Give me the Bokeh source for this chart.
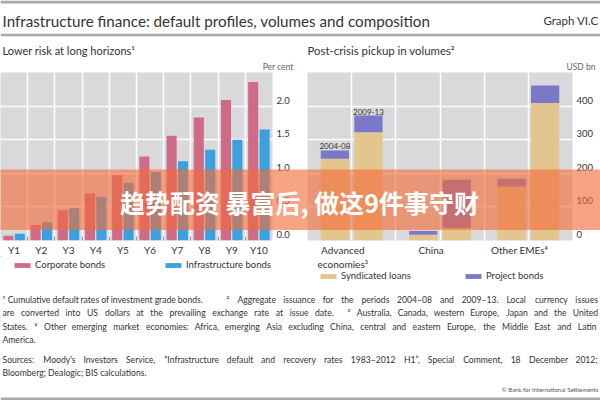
from bokeh.plotting import figure
from bokeh.layouts import column, row
from bokeh.models import (ColumnDataSource, Range1d, FixedTicker, Legend, LegendItem)
from bokeh.transform import dodge, stack
from bokeh.core.properties import value
from bokeh.embed import file_html
from bokeh.resources import INLINE

# ---------------- data ----------------
horizons = ["Y1", "Y2", "Y3", "Y4", "Y5", "Y6", "Y7", "Y8", "Y9", "Y10"]
corporate_bonds = [0.07, 0.23, 0.45, 0.70, 0.97, 1.25, 1.56, 1.83, 2.09, 2.36]
infrastructure_bonds = [0.10, 0.27, 0.48, 0.65, 0.86, 1.02, 1.18, 1.35, 1.50, 1.65]
left_ticks = [0.0, 0.5, 1.0, 1.5, 2.0]
left_tick_labels = ["0.0", "0.5", "1.0", "1.5", "2.0"]

regions = ["Advanced\neconomies³", "China", "Other EMEs⁴"]
periods = ["2004-08", "2009-13"]
syndicated_2004_08 = [243, 17, 161]
project_2004_08 = [25, 11, 23]
syndicated_2009_13 = [322, 37, 409]
project_2009_13 = [50, 144, 52]
right_ticks = [0, 100, 200, 300, 400]
right_tick_labels = ["0", "100", "200", "300", "400"]

# ---------------- style ----------------
FONT = "Lato"
CJK = "Noto Sans CJK SC"
TXT = "#333333"
BG = "#d9d9db"
PINK = "#cf6a87"
BLUE = "#3aa0de"
TAN = "#e3c58e"
PURPLE = "#7c78c8"
RULE = "#a8a8a8"
BANNER = "#f26b3a"
BANNER_ALPHA = 0.62
FRAME_H = 168          # plot-area height in px
LABEL_LIFT = 6         # y tick labels sit a few px above their grid line

# approximate Lato advance widths (em) used to justify the footnote lines
EM = {' ': 0.193, 'a': 0.484, 'b': 0.56, 'c': 0.45, 'd': 0.56, 'e': 0.52, 'f': 0.31, 'g': 0.5,
      'h': 0.56, 'i': 0.235, 'j': 0.235, 'k': 0.5, 'l': 0.235, 'm': 0.84, 'n': 0.56, 'o': 0.55,
      'p': 0.56, 'q': 0.56, 'r': 0.37, 's': 0.42, 't': 0.35, 'u': 0.56, 'v': 0.5, 'w': 0.77,
      'x': 0.49, 'y': 0.5, 'z': 0.44, '.': 0.23, ',': 0.23, ':': 0.25, ';': 0.25, '–': 0.58,
      '-': 0.36, '“': 0.35, '”': 0.35, "'": 0.22, '¹': 0.35, '²': 0.35, '³': 0.35, '⁴': 0.35,
      'I': 0.29, 'M': 0.9, 'W': 1.0, 'J': 0.41}


def em_width(s):
    return sum(EM.get(ch, 0.58 if ch.isdigit() else 0.66) for ch in s)


def canvas_fig(height, top, bottom, **kw):
    return figure(width=600, height=height, x_range=Range1d(0, 600), y_range=Range1d(bottom, top),
                  output_backend="svg", toolbar_location=None, x_axis_type=None, y_axis_type=None,
                  min_border=0, outline_line_color=None, **kw)


def txt(p, x, y, s, size, align="left", color=TXT, font=FONT):
    p.text(x=[x], y=[y], text=[s], text_font=value(font), text_font_size=size,
           text_color=color, text_align=align, text_baseline="middle")


def style_panel(p, yticks, ylabels, ymax, xticks, xminor, xgrid, labels):
    lift = LABEL_LIFT * ymax / FRAME_H
    lifted = [round(t + lift, 6) for t in yticks]
    p.yaxis.ticker = FixedTicker(ticks=lifted)
    p.yaxis.major_label_overrides = {t: l for t, l in zip(lifted, ylabels)}
    p.yaxis.axis_line_color = None
    p.yaxis.major_tick_line_color = None
    p.yaxis.minor_tick_line_color = None
    p.yaxis.major_tick_out = 0
    p.yaxis.major_tick_in = 0
    p.yaxis.major_label_standoff = 4
    p.yaxis.major_label_text_font = FONT
    p.yaxis.major_label_text_font_size = "9.5px"
    p.yaxis.major_label_text_color = TXT
    p.ygrid.ticker = FixedTicker(ticks=yticks)
    p.ygrid.grid_line_color = "white"
    p.ygrid.grid_line_width = 1.5

    p.xaxis.ticker = FixedTicker(ticks=xticks, minor_ticks=xminor)
    p.xaxis.major_label_overrides = {t: l for t, l in zip(xticks, labels)}
    p.xaxis.axis_line_color = None
    p.xaxis.major_tick_line_color = None
    p.xaxis.major_tick_out = 0
    p.xaxis.minor_tick_in = 4
    p.xaxis.minor_tick_out = 0
    p.xaxis.minor_tick_line_color = "#9a9a9a"
    p.xaxis.major_label_standoff = 3
    p.xaxis.major_label_text_font = FONT
    p.xaxis.major_label_text_font_size = "10px"
    p.xaxis.major_label_text_color = TXT
    p.xgrid.ticker = FixedTicker(ticks=xgrid)
    p.xgrid.grid_line_color = "white"
    p.xgrid.grid_line_width = 1.5


# ---------------- header ----------------
head = canvas_fig(72, 0, 72)
head.segment(x0=[0, 0], y0=[1.5, 34.5], x1=[600, 600], y1=[1.5, 34.5],
             line_color=RULE, line_width=[3, 2.5])
txt(head, 2, 20, "Infrastructure finance: default profiles, volumes and composition", "15.2px")
txt(head, 598, 20, "Graph VI.C", "11.5px", align="right")
txt(head, 2, 50, "Lower risk at long horizons¹", "11px")
txt(head, 307, 50, "Post-crisis pickup in volumes²", "11.4px")
txt(head, 293, 66, "Per cent", "8.5px", align="right", color="#666666")
txt(head, 595, 66, "USD bn", "8.5px", align="right", color="#666666")

# ---------------- left panel ----------------
n = len(horizons)
left = figure(width=300, height=213, x_range=Range1d(-0.5, n - 0.5), y_range=Range1d(0, 2.5),
              y_axis_location="right", output_backend="svg", toolbar_location=None,
              min_border_left=0, min_border_right=28, min_border_top=0, min_border_bottom=45,
              background_fill_color=BG, outline_line_color=None)
lsrc = ColumnDataSource(dict(x=list(range(n)), corp=corporate_bonds, infra=infrastructure_bonds))
left.vbar(x=dodge("x", -0.21), top="corp", width=0.37, source=lsrc,
          fill_color=PINK, line_color=None)
left.vbar(x=dodge("x", 0.21), top="infra", width=0.37, source=lsrc,
          fill_color=BLUE, line_color=None)
style_panel(left, left_ticks, left_tick_labels, 2.5, list(range(n)),
            [i + 0.5 for i in range(n - 1)], [i + 0.5 for i in range(n)], horizons)

# ---------------- right panel ----------------
m = len(regions)
right = figure(width=300, height=213, x_range=Range1d(-0.5, m - 0.5), y_range=Range1d(0, 500),
               y_axis_location="right", output_backend="svg", toolbar_location=None,
               min_border_left=7, min_border_right=28, min_border_top=0, min_border_bottom=45,
               background_fill_color=BG, outline_line_color=None)
rsrc = ColumnDataSource(dict(x=list(range(m)), s04=syndicated_2004_08, p04=project_2004_08,
                             s09=syndicated_2009_13, p09=project_2009_13))
right.vbar(x=dodge("x", -0.19), bottom=0, top="s04", width=0.32, source=rsrc,
           fill_color=TAN, line_color=None)
right.vbar(x=dodge("x", -0.19), bottom=stack("s04"), top=stack("s04", "p04"), width=0.32,
           source=rsrc, fill_color=PURPLE, line_color=None)
right.vbar(x=dodge("x", 0.19), bottom=0, top="s09", width=0.32, source=rsrc,
           fill_color=TAN, line_color=None)
right.vbar(x=dodge("x", 0.19), bottom=stack("s09"), top=stack("s09", "p09"), width=0.32,
           source=rsrc, fill_color=PURPLE, line_color=None)
psrc = ColumnDataSource(dict(x=[0], t04=[syndicated_2004_08[0] + project_2004_08[0]],
                             t09=[syndicated_2009_13[0] + project_2009_13[0]],
                             l04=[periods[0]], l09=[periods[1]]))
for off, ycol, lcol in ((-0.19, "t04", "l04"), (0.19, "t09", "l09")):
    right.text(x=dodge("x", off), y=ycol, text=lcol, source=psrc, text_font=value(FONT),
               text_font_size="8px", text_color=TXT, text_align="center",
               text_baseline="bottom", y_offset=-1)
style_panel(right, right_ticks, right_tick_labels, 500, [i - 0.1 for i in range(m)], [],
            [i * 0.5 for i in range(2 * m)], regions)

# ---------------- legends (transparent strip laid over the panels' bottom) ----------------
leg = canvas_fig(30, 0, 30, background_fill_color=None, border_fill_color=None,
                 margin=(-30, 0, 0, 0))
swatch = {}
for name, col in (("Corporate bonds", PINK), ("Infrastructure bonds", BLUE),
                  ("Syndicated loans", TAN), ("Project bonds", PURPLE)):
    # legend-only proxy glyph, kept outside the strip's visible range
    swatch[name] = leg.vbar(x=[-100], top=[1], width=1, fill_color=col, line_color=None)


def strip_legend(names, loc, spacing):
    return Legend(items=[LegendItem(label=k, renderers=[swatch[k]]) for k in names],
                  orientation="horizontal", location=loc, margin=0, padding=0,
                  glyph_width=20, glyph_height=6, label_height=8, label_width=85,
                  label_standoff=3, spacing=spacing, background_fill_alpha=0,
                  border_line_color=None, label_text_font=FONT, label_text_font_size="9.5px",
                  label_text_color=TXT)


leg.add_layout(strip_legend(["Corporate bonds", "Infrastructure bonds"], (12, 15), 43))
leg.add_layout(strip_legend(["Syndicated loans", "Project bonds"], (318, 4), 37))

# ---------------- overlay banner (pulled up over the panels) ----------------
banner = canvas_fig(61, 0, 61, background_fill_color=BANNER, background_fill_alpha=BANNER_ALPHA,
                    border_fill_color=None, margin=(-116, 0, 55, 0))
banner.text(x=[299], y=[32], text=["趋势配资 暴富后, 做这9件事守财"], text_font=value(CJK),
            text_font_style="bold", text_font_size="25px", text_color="white",
            text_align="center", text_baseline="middle")

# ---------------- footer ----------------
foot = canvas_fig(115, 285, 400)
FN = 8.6
# (start x, end x or None when not justified, y, text)
lines = [
    (2, 202, 299, "¹ Cumulative default rates of investment grade bonds."),
    (226, 597, 299, "² Aggregate issuance for the periods 2004–08 and 2009–13. Local currency issues"),
    (2, 333, 312, "are converted into US dollars at the prevailing exchange rate at issue date."),
    (347, 597, 312, "³ Australia, Canada, western Europe, Japan and the United"),
    (2, None, 326, "States."),
    (34, 597, 326, "⁴ Other emerging market economies: Africa, emerging Asia excluding China, central and eastern Europe, the Middle East and Latin"),
    (2, None, 339, "America."),
    (2, 597, 359, "Sources: Moody's Investors Service, “Infrastructure default and recovery rates 1983–2012 H1”, Special Comment, 18 December 2012;"),
    (2, None, 372, "Bloomberg; Dealogic; BIS calculations."),
]
wx, wy, wt = [], [], []
for x0, x1, y, s in lines:
    if x1 is None:
        wx.append(x0); wy.append(y); wt.append(s)
        continue
    words = s.split()
    widths = [em_width(w) * FN for w in words]
    gap = (x1 - x0 - sum(widths)) / (len(words) - 1)
    x = x0
    for w, wd in zip(words, widths):
        wx.append(x); wy.append(y); wt.append(w)
        x += wd + gap
foot.text(x=wx, y=wy, text=wt, text_font=value(FONT), text_font_size=f"{FN}px",
          text_color=TXT, text_align="left", text_baseline="middle")
txt(foot, 598, 389, "© Bank for International Settlements", "6px", align="right", color="#555555")
foot.segment(x0=[0], y0=[398.5], x1=[600], y1=[398.5], line_color=RULE, line_width=3)

layout = column(head, row(left, right), leg, banner, foot)
open("out.html", "w").write(file_html(layout, INLINE, "Infrastructure finance"))
